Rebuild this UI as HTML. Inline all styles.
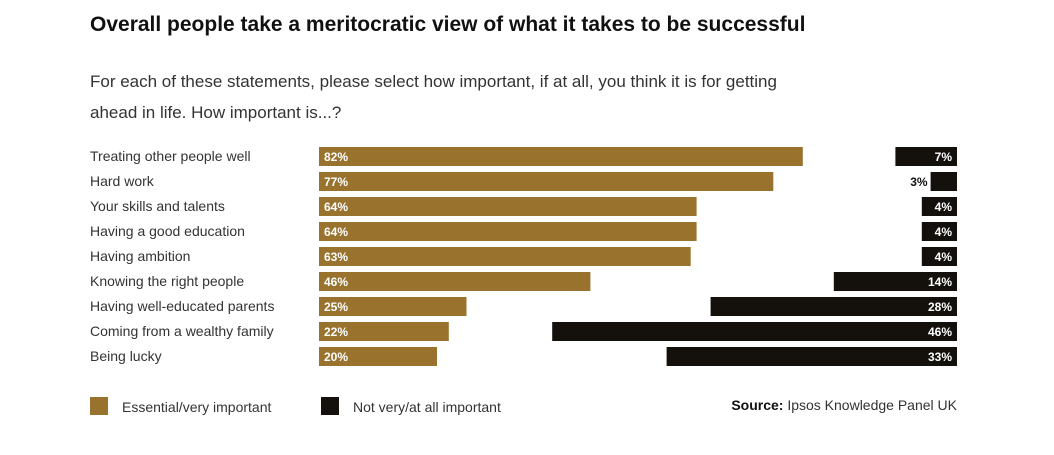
<!DOCTYPE html>
<html><head><meta charset="utf-8"><style>
body{margin:0;background:#fff;width:1054px;height:450px;overflow:hidden;font-family:"Liberation Sans",sans-serif}
</style></head><body>
<svg id="c" width="1054" height="450" xmlns="http://www.w3.org/2000/svg">
<text x="90" y="31" font-size="21" font-weight="bold" fill="#111">Overall people take a meritocratic view of what it takes to be successful</text>
<text x="90" y="87" font-size="17" fill="#333">For each of these statements, please select how important, if at all, you think it is for getting</text>
<text x="90" y="118" font-size="17" fill="#333">ahead in life.  How important is...?</text>
<g id="bars"></g>
<rect x="90" y="397" width="18" height="18" fill="#99732e"/>
<text x="122" y="412" font-size="14" fill="#333">Essential/very important</text>
<rect x="321" y="397" width="18" height="18" fill="#14110d"/>
<text x="353" y="412" font-size="14" fill="#333">Not very/at all important</text>
<text x="957" y="410" font-size="14" fill="#333" text-anchor="end"><tspan font-weight="bold" fill="#111">Source:</tspan> Ipsos Knowledge Panel UK</text>
</svg>
<script>
const categories=["Treating other people well","Hard work","Your skills and talents","Having a good education","Having ambition","Knowing the right people","Having well-educated parents","Coming from a wealthy family","Being lucky"];
const important=[82,77,64,64,63,46,25,22,20];
const notImportant=[7,3,4,4,4,14,28,46,33];
const NS="http://www.w3.org/2000/svg";
const g=document.getElementById("bars");
const x0=319,kL=5.9,xR=957,kR=8.8,y0=147,step=25,bh=19;
function xl(v){return v*kL;}
function xr(v){return v*kR;}
function yRow(i){return y0+i*step;}
function mk(tag,attrs){const e=document.createElementNS(NS,tag);for(const k in attrs)e.setAttribute(k,attrs[k]);g.appendChild(e);return e;}
categories.forEach((c,i)=>{
  const y=yRow(i);
  const lab=mk("text",{x:90,y:y+14,"font-size":14,fill:"#333"});
  lab.textContent=c;
  
  
  const b=mk("rect",{x:x0,y:y,width:xl(important[i]),height:bh,fill:"#99732e"});
  
  
  const t=mk("text",{x:x0+5,y:y+14,"font-size":12,"font-weight":"bold",fill:"#fff"});
  t.textContent=important[i]+"%";
  
  
  const w=xr(notImportant[i]);
  const b2=mk("rect",{x:xR-w,y:y,width:w,height:bh,fill:"#14110d"});
  
  
  const inside=w>32;
  const t2=mk("text",{x:inside?xR-5:xR-w-3,y:y+14,"font-size":12,"font-weight":"bold",fill:inside?"#fff":"#111","text-anchor":"end"});
  t2.textContent=notImportant[i]+"%";
  
  
});
</script>
</body></html>
